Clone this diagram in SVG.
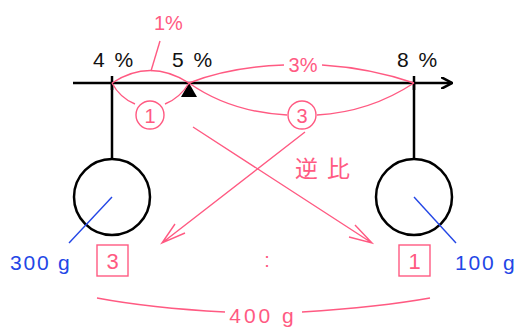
<svg xmlns="http://www.w3.org/2000/svg" width="517" height="327" viewBox="0 0 517 327">
<style>
.blk{stroke:#000;stroke-width:2.5;fill:none}
.pk{stroke:#ff5a82;stroke-width:1.4;fill:none}
.bl{stroke:#2346e6;stroke-width:1.4;fill:none}
.tb{font-family:"Liberation Sans","DejaVu Sans",sans-serif;font-size:21px;letter-spacing:2px;fill:#111}
.tp{font-family:"Liberation Sans","Noto Sans CJK JP",sans-serif;font-size:19px;fill:#ff5a82}
.tbl{font-family:"Liberation Sans","DejaVu Sans",sans-serif;font-size:21px;letter-spacing:1.8px;fill:#2346e6}
</style>
<defs>
<marker id="ah" viewBox="0 0 12 12" refX="11" refY="6" markerWidth="12" markerHeight="12" markerUnits="userSpaceOnUse" orient="auto">
<path d="M0,0 L11,6 L0,12" fill="none" stroke="#000" stroke-width="2.5"/>
</marker>
</defs>
<g id="axis">
<line class="blk" x1="73" y1="83" x2="452" y2="83" marker-end="url(#ah)"/>
<line class="blk" x1="112" y1="76" x2="112" y2="90"/>
<line class="blk" x1="414" y1="76" x2="414" y2="90"/>
<polygon points="189,83 181,97 197,97" fill="#000"/>
<text class="tb" x="93" y="67">4 %</text>
<text class="tb" x="172" y="67">5 %</text>
<text class="tb" x="397" y="67">8 %</text>
</g>
<g id="left-weight">
<line class="blk" x1="112" y1="83" x2="112" y2="159"/>
<circle class="blk" cx="112" cy="197" r="38"/>
</g>
<g id="right-weight">
<line class="blk" x1="414" y1="83" x2="414" y2="159"/>
<circle class="blk" cx="414" cy="197" r="38"/>
</g>
<g id="connectors">
<path class="pk" d="M112,83 Q150,58 189,83"/>
<line class="pk" x1="160" y1="41" x2="151" y2="71"/>
<path class="pk" d="M112,83 Q120,98 135,104"/>
<path class="pk" d="M165,104 Q180,98 189,83"/>
<path class="pk" d="M189,83 Q230,67 284,65"/>
<path class="pk" d="M322,65 Q370,68 414,83"/>
<path class="pk" d="M189,83 Q230,112 287,115"/>
<path class="pk" d="M317,115 Q370,112 414,83"/>
<path class="pk" d="M305,132 L162,243 M175,224 L162,243 L185,233"/>
<path class="pk" d="M193,127 L372,243 M355,225 L372,243 L349,237"/>
<line class="bl" x1="112" y1="197" x2="69" y2="243"/>
<line class="bl" x1="414" y1="197" x2="456" y2="243"/>
<path class="pk" d="M97,298 Q150,308 225,312"/>
<path class="pk" d="M302,312 Q380,307 430,298"/>
</g>
<g id="labels">
<text class="tp" x="154" y="30" style="font-size:20px">1%</text>
<circle class="pk" cx="150" cy="115" r="14"/>
<text class="tp" x="150" y="122.5" text-anchor="middle" style="font-size:20px">1</text>
<text class="tp" x="303" y="72" text-anchor="middle" style="font-size:20px">3%</text>
<circle class="pk" cx="302" cy="115" r="14"/>
<text class="tp" x="302" y="122.5" text-anchor="middle" style="font-size:20px">3</text>
<text class="tp" x="295" y="177" style="font-size:23px;letter-spacing:9px">逆比</text>
<rect class="pk" x="97" y="245" width="31" height="31"/>
<text class="tp" x="112.5" y="268.5" text-anchor="middle" style="font-size:22px">3</text>
<text class="tp" x="267" y="267" text-anchor="middle" style="font-size:20px">:</text>
<rect class="pk" x="399" y="245" width="31" height="31"/>
<text class="tp" x="414.5" y="268.5" text-anchor="middle" style="font-size:22px">1</text>
<text class="tbl" x="10" y="270">300 g</text>
<text class="tbl" x="455" y="270">100 g</text>
<text class="tp" x="263" y="323" text-anchor="middle" style="font-size:21px;letter-spacing:3px">400 g</text>
</g>
</svg>
